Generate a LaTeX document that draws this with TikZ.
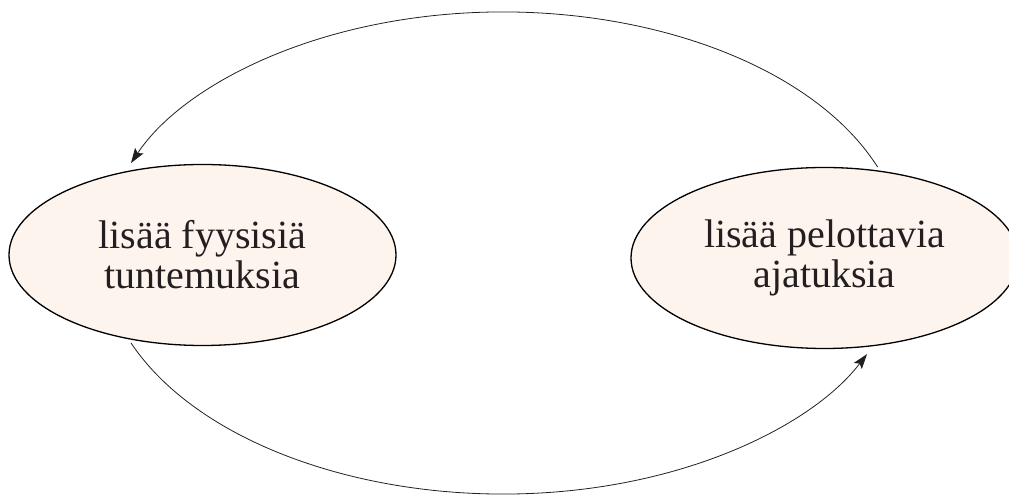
\documentclass[tikz,border=0pt]{standalone}
\usepackage{fontspec}
\setmainfont{Liberation Serif}
\usetikzlibrary{shapes.geometric,arrows.meta,calc}
\definecolor{bubble}{HTML}{FEF4EE}
\definecolor{ink}{HTML}{231F20}
\tikzset{
  bubblenode/.style={ellipse, draw=black, line width=1.3pt, fill=bubble, inner sep=0pt,
    minimum width=387pt, minimum height=181pt, align=center, text=ink,
    font=\fontsize{40}{40}\selectfont},
  cycleline/.style={line width=0.8pt, draw=ink, -{Stealth[length=15pt,width=10pt,inset=3pt]}}
}
\begin{document}
\begin{tikzpicture}[x=1pt,y=1pt]
\useasboundingbox (0,0) rectangle (1009,495);
\node[bubblenode] (L) at (202.5,240) {lisää fyysisiä\\tuntemuksia};
\node[bubblenode] (R) at (824.5,237) {lisää pelottavia\\ajatuksia};
\coordinate (c) at (503,242);
\coordinate (ua) at ($(c)+(20.9:401 and 241)$);
\coordinate (la) at ($(c)+(201.9:401 and 241)$);
\draw[cycleline] (ua) arc[start angle=20.9, end angle=158.1, x radius=401, y radius=241];
\draw[cycleline] (la) arc[start angle=201.9, end angle=335.2, x radius=401, y radius=241];
\end{tikzpicture}
\end{document}
